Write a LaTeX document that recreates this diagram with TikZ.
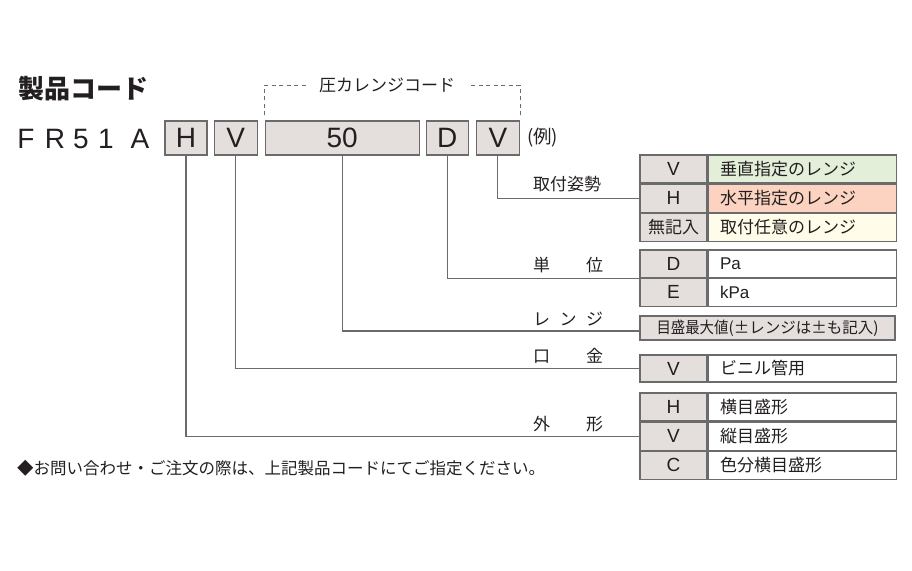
\documentclass[tikz,border=0pt]{standalone}
\usepackage{fontspec}
\setmainfont{Liberation Sans}
\newfontfamily\jp{Noto Sans CJK JP}
\definecolor{boxgray}{HTML}{E4DFDD}
\definecolor{boxline}{HTML}{6B6B6B}
\definecolor{rowgreen}{HTML}{E3EFD9}
\definecolor{rowsalmon}{HTML}{FBD3C0}
\definecolor{rowcream}{HTML}{FFFCE9}
\definecolor{ink}{HTML}{231F20}
\usetikzlibrary{positioning}

\begin{document}
\begin{tikzpicture}[x=1pt, y=-1pt, text=ink,
  codebox/.style={rectangle, draw=boxline, fill=boxgray, line width=1.1pt, minimum height=34pt,
                  inner sep=0pt, font=\fontsize{28}{28}\selectfont},
  codecell/.style={rectangle, draw=boxline, fill=boxgray, line width=1.1pt, minimum width=67pt,
                   minimum height=28pt, inner sep=0pt, font=\fontsize{19}{19}\selectfont},
  desccell/.style={rectangle, draw=boxline, fill=white, line width=1.1pt, text width=164pt,
                   inner xsep=12pt, inner ysep=0pt, minimum height=28pt, align=left,
                   font=\fontsize{17}{17}\selectfont\jp},
  tag/.style={anchor=west, inner sep=0pt, font=\fontsize{17}{17}\selectfont\jp},
  conn/.style={draw=boxline, line width=1.1pt},
  bracket/.style={draw=boxline, line width=0.9pt, dash pattern=on 4pt off 3.5pt},
]
\useasboundingbox (0,0) rectangle (912,570);

% Title and model prefix
\node[anchor=west, inner sep=0pt, font=\fontsize{26}{26}\selectfont\jp\bfseries] (title) at (18,89) {製品コード};
\foreach \ch/\cx [count=\i] in {F/26, R/55, 5/81, 1/106, A/140}
  \node[inner sep=0pt, anchor=base, font=\fontsize{28}{28}\selectfont] (fr\i) at (\cx,148) {\ch};

% Code boxes
\node[codebox, minimum width=42pt] (bH) at (186,138) {H};
\node[codebox, minimum width=43pt, right=6pt of bH] (bV) {V};
\node[codebox, minimum width=154pt, right=7pt of bV] (b50) {50};
\node[codebox, minimum width=42pt, right=6pt of b50] (bD) {D};
\node[codebox, minimum width=43pt, right=7pt of bD] (bV2) {V};
\node[anchor=west, inner sep=0pt, font=\fontsize{18.5}{18.5}\selectfont\jp] (rei) at (527,138) {(例)};

% Pressure range bracket
\node[inner xsep=13pt, inner ysep=0pt, font=\fontsize{17}{17}\selectfont\jp] (prange) at (387,85) {圧カレンジコード};
\draw[bracket] ([yshift=5pt]b50.north west) |- (prange.west);
\draw[bracket] ([yshift=5pt]bV2.north east) |- (prange.east);

% Mounting table
\node[codecell] (t1v) at (673.5,169) {V};
\node[desccell, fill=rowgreen, right=0pt of t1v] (t1vd) {垂直指定のレンジ};
\node[codecell, below=0pt of t1v] (t1h) {H};
\node[desccell, fill=rowsalmon, right=0pt of t1h] (t1hd) {水平指定のレンジ};
\node[codecell, below=0pt of t1h] (t1n) {\jp\fontsize{17}{17}\selectfont 無記入};
\node[desccell, fill=rowcream, right=0pt of t1n] (t1nd) {取付任意のレンジ};

% Unit table
\node[codecell, minimum height=27.5pt] (t2d) at (673.5,263.75) {D};
\node[desccell, minimum height=27.5pt, right=0pt of t2d, font=\fontsize{17}{17}\selectfont] (t2dd) {Pa};
\node[codecell, minimum height=27.5pt, below=0pt of t2d] (t2e) {E};
\node[desccell, minimum height=27.5pt, right=0pt of t2e, font=\fontsize{17}{17}\selectfont] (t2ed) {kPa};

% Range box
\node[codecell, minimum width=255pt, minimum height=24pt] (t3) at (767.5,328)
  {\jp\scalebox{0.9}[1]{\fontsize{16}{16}\selectfont 目盛最大値}\fontsize{15.5}{15.5}\selectfont(±レンジは±も記入)};

% Port table
\node[codecell, minimum height=27pt] (t4v) at (673.5,368.5) {V};
\node[desccell, minimum height=27pt, right=0pt of t4v] (t4vd) {ビニル管用};

% Shape table
\node[codecell] (t5h) at (673.5,407) {H};
\node[desccell, right=0pt of t5h] (t5hd) {横目盛形};
\node[codecell, below=0pt of t5h] (t5v) {V};
\node[desccell, right=0pt of t5v] (t5vd) {縦目盛形};
\node[codecell, below=0pt of t5v] (t5c) {C};
\node[desccell, right=0pt of t5c] (t5cd) {色分横目盛形};

% Leaders
\draw[conn] (bV2.south) |- (t1h.west);
\draw[conn] (bD.south) |- (t2d.south west);
\draw[conn] (b50.south) |- ([yshift=-3pt]t3.west);
\draw[conn] (bV.south) |- (t4v.west);
\draw[conn] (bH.south) |- (t5v.west);

\node[tag] (lmount) at (533,184) {取付姿勢};
\node[tag] (lunit) at (533,265) {\makebox[70pt]{単\hfill 位}};
\node[tag] (lrange) at (533,319) {\makebox[70pt]{レ\hfill ン\hfill ジ}};
\node[tag] (lport) at (533,356) {\makebox[70pt]{口\hfill 金}};
\node[tag] (lshape) at (533,424) {\makebox[70pt]{外\hfill 形}};

% Footnote
\node[anchor=west, inner sep=0pt, font=\fontsize{16.5}{16.5}\selectfont\jp] (note) at (17,468)
  {◆お問い合わせ・ご注文の際は、上記製品コードにてご指定ください。};

\end{tikzpicture}
\end{document}
